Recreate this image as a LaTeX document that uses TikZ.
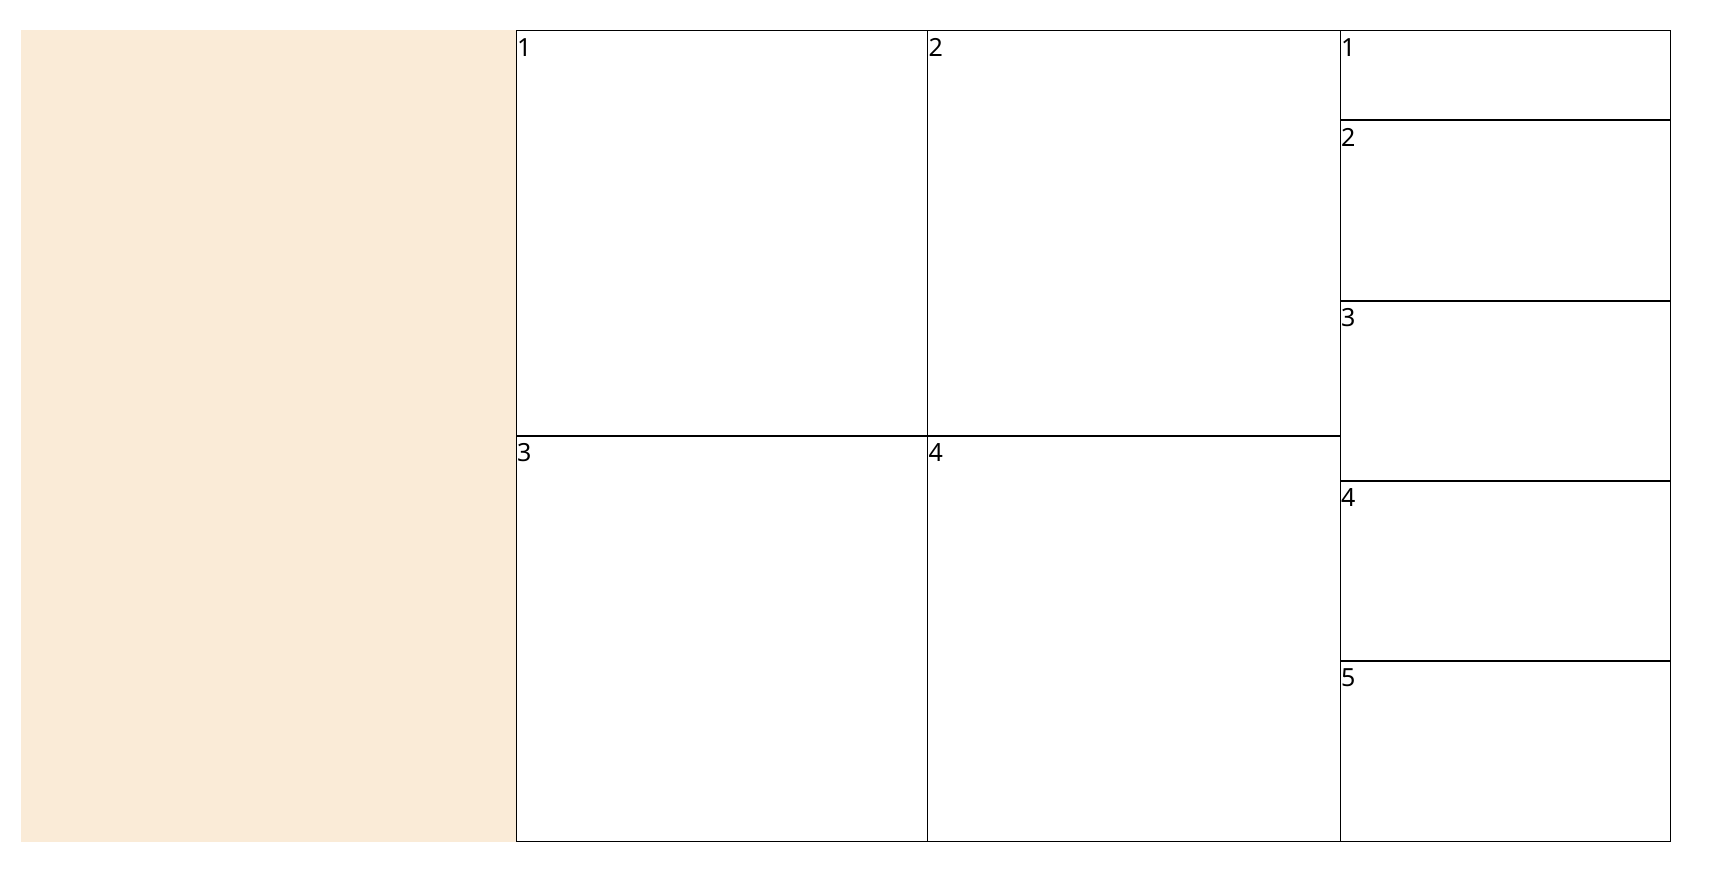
\documentclass[tikz,border=0pt]{standalone}
\usepackage{fontspec}
\setmainfont{Noto Sans}
\definecolor{beige}{RGB}{250,235,215}
\begin{document}
\begin{tikzpicture}[x=1pt,y=-1pt,
  thinline/.style={draw=black,line width=1pt},
  sepline/.style={draw=black,line width=1.6pt},
  lbl/.style={anchor=base west,inner sep=0pt,font=\fontsize{25}{30}\selectfont}]
\useasboundingbox (0,0) rectangle (1719,873);
\fill[beige] (21,30) rectangle (516,842);
% right column separators
\draw[sepline] (1340,120) -- (1670,120);
\draw[sepline] (1340,301) -- (1670,301);
\draw[sepline] (1340,481) -- (1670,481);
\draw[sepline] (1340,661) -- (1670,661);
\draw[sepline] (516,435.7) -- (1340,435.7);
\draw[thinline] (516,30) rectangle (1670,841);
\draw[thinline] (927.5,30) -- (927.5,841);
\draw[thinline] (1340,30) -- (1340,841);
% labels
\node[lbl] (a1) at (517,56) {1};
\node[lbl] (a2) at (928.5,56) {2};
\node[lbl] (a3) at (517,461) {3};
\node[lbl] (a4) at (928.5,461) {4};
\node[lbl] (b1) at (1341,56) {1};
\node[lbl] (b2) at (1341,146) {2};
\node[lbl] (b3) at (1341,326) {3};
\node[lbl] (b4) at (1341,506) {4};
\node[lbl] (b5) at (1341,686) {5};
\end{tikzpicture}
\end{document}
